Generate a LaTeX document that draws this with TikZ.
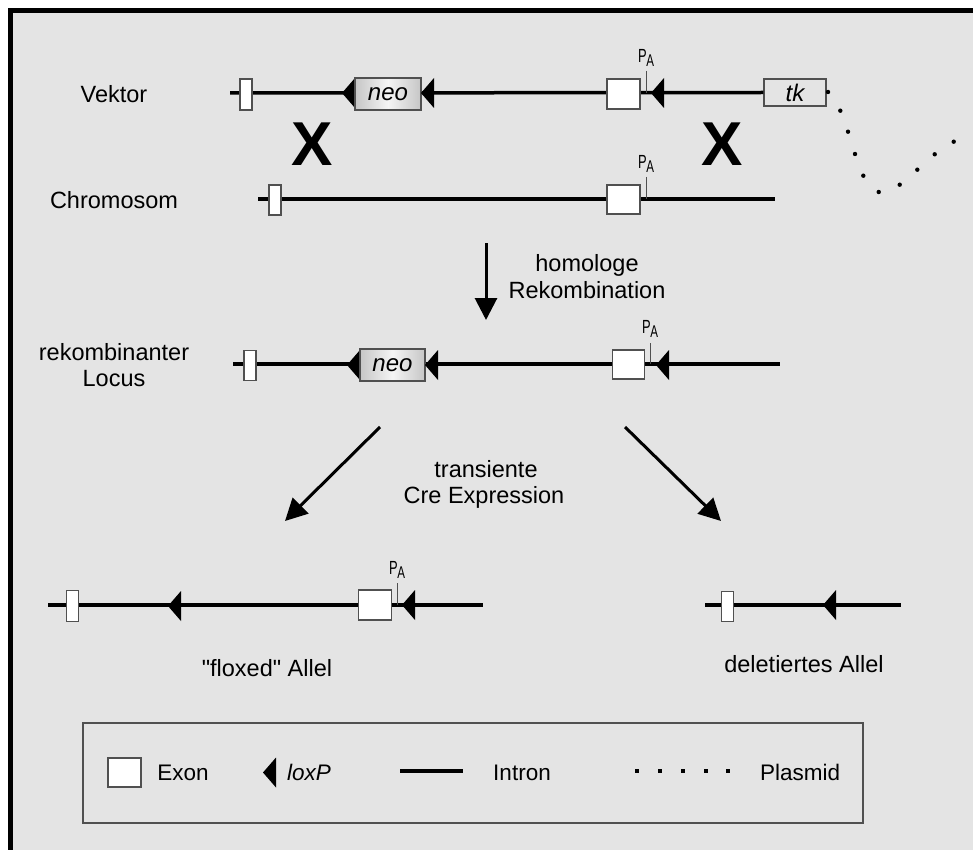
\documentclass[tikz,border=0pt]{standalone}
\usepackage{fontspec}
\setmainfont{Liberation Sans}
\newfontfamily\rawsans{Liberation Sans}
\usetikzlibrary{arrows.meta,shapes.geometric}
\definecolor{bg}{RGB}{228,228,228}
\definecolor{edge}{RGB}{80,80,80}
\newcommand\polyA{\scalebox{0.68}[1]{\fontsize{19}{19}\selectfont P\kern-0.5pt\raisebox{-3.5pt}{\fontsize{17}{17}\selectfont A}}}
\tikzset{loxp/.pic={\fill (0,0) -- (13,-15) -- (13,15) -- cycle;}}
\begin{document}
\begin{tikzpicture}[x=1pt,y=-1pt,
  intron/.style={line width=3.5pt, line cap=butt},
  exon/.style={draw=edge, line width=1.2pt, fill=white, inner sep=0pt},
  smallexon/.style={exon, minimum width=12pt, minimum height=31pt},
  bigexon/.style={exon, minimum width=33pt, minimum height=30pt},
  neobox/.style={draw=edge, line width=1.2pt, inner sep=0pt, minimum width=66pt, minimum height=32pt,
     left color=gray!45, right color=gray!45, middle color=gray!8, font=\fontsize{24}{24}\selectfont\itshape},
  tkbox/.style={draw=edge, line width=1.2pt, inner sep=0pt, fill=bg, minimum width=62pt, minimum height=27pt,
     font=\fontsize{24}{24}\selectfont\itshape},
  lbl/.style={inner sep=0pt, anchor=base, font=\fontsize{23.5}{28}\selectfont},
  leg/.style={inner sep=0pt, anchor=base, font=\fontsize{22.5}{26}\selectfont},
  palbl/.style={inner sep=0pt},
  patick/.style={draw=edge, line width=1pt},
  bigx/.style={inner sep=0pt, font=\fontsize{62}{62}\selectfont\bfseries},
  flow/.style={line width=3pt, -{Triangle[width=22pt,length=22pt]}},
  plasdot/.style={fill=black}
]
\useasboundingbox (0,0) rectangle (973,850);
\fill[white] (0,0) rectangle (973,850);
\begin{scope}
  \clip (0,0) rectangle (973,850);
  \draw[line width=5pt, fill=bg] (10.5,10.5) rectangle (1000,900);
\end{scope}

% ---------- row 1: Vektor ----------
\node[lbl] (lvek) at (114,103) {Vektor};
\coordinate (v0) at (230,93);
\node[tkbox] (tk) at (795,92.5) {tk};
\draw[intron] (v0) -- (tk.west);
\node[smallexon] (v1) at (246,94.5) {};
\pic at (342,93) {loxp};
\node[neobox] (neo1) at (388,94) {neo};
\pic at (421,93) {loxp};
\node[bigexon] (v2) at (623.5,94) {};
\draw[patick] (646,71) -- (646,93);
\node[palbl] (pa1) at (646,58) {\polyA};
\pic at (651,93) {loxp};
\foreach \px/\py in {828/92,840.3/110.7,848/131.7,855/154,863.3/175.7,878.7/192,899.7/184.7,917.3/169.7,934.7/154.3,953.7/141.7}
  \fill[plasdot] (\px,\py) circle (2.2);

\node[bigx] (x1) at (312,144) {X};
\node[bigx] (x2) at (722,144) {X};

% ---------- row 2: Chromosom ----------
\node[lbl] (lchr) at (114,208) {Chromosom};
\coordinate (c0) at (258,199);
\coordinate (c1) at (775,199);
\draw[intron] (c0) -- (c1);
\node[smallexon, minimum height=30pt] (ce1) at (275,200) {};
\node[bigexon, minimum height=29pt] (ce2) at (623.5,199.5) {};
\draw[patick] (646,177) -- (646,199);
\node[palbl] (pa2) at (646,164) {\polyA};

% ---------- arrow: homologe Rekombination ----------
\coordinate (hrA) at (486,243);
\coordinate (hrB) at (486,320);
\draw[flow] (hrA) -- (hrB);
\node[lbl] (hr1) at (587,271) {homologe};
\node[lbl] (hr2) at (587,298) {Rekombination};

% ---------- row 3: rekombinanter Locus ----------
\node[lbl] (lrek1) at (114,360) {rekombinanter};
\node[lbl] (lrek2) at (114,386) {Locus};
\coordinate (r0) at (233,364);
\coordinate (r1) at (780,364);
\draw[intron] (r0) -- (r1);
\node[smallexon, minimum height=30pt] (re1) at (250,365.5) {};
\pic at (347,365) {loxp};
\node[neobox, minimum width=65pt] (neo2) at (392.5,365) {neo};
\pic at (425,365) {loxp};
\node[bigexon, minimum width=32pt, minimum height=29pt] (re2) at (628.5,364.5) {};
\draw[patick] (650,343) -- (650,364);
\node[palbl] (pa3) at (650,329) {\polyA};
\pic at (656,365) {loxp};

% ---------- arrows: transiente Cre Expression ----------
\coordinate (crA) at (380,427);
\coordinate (crL) at (285,521);
\coordinate (crB) at (625,427);
\coordinate (crR) at (721,521);
\draw[flow] (crA) -- (crL);
\draw[flow] (crB) -- (crR);
\node[lbl] (cr1) at (486,477) {transiente};
\node[lbl] (cr2) at (484,503) {Cre Expression};

% ---------- row 4: floxed ----------
\coordinate (f0) at (48,605);
\coordinate (f1) at (483,605);
\draw[intron] (f0) -- (f1);
\node[smallexon] (fe1) at (72.7,606) {};
\pic at (168,606) {loxp};
\node[bigexon] (fe2) at (375,605) {};
\draw[patick] (397,583) -- (397,605);
\node[palbl] (pa4) at (397,570) {\polyA};
\pic at (402,605) {loxp};
\node[lbl] (lflox) at (267,676) {\rawsans "floxed" Allel};

% ---------- row 4: deleted ----------
\coordinate (d0) at (705,605);
\coordinate (d1) at (901,605);
\draw[intron] (d0) -- (d1);
\node[smallexon, minimum height=30pt] (de1) at (727.5,606.5) {};
\pic at (823,605) {loxp};
\node[lbl] (ldel) at (804,672) {deletiertes Allel};

% ---------- legend ----------
\node[draw=edge, line width=1.5pt, inner sep=0pt, minimum width=780pt, minimum height=100pt] (legend) at (473,773) {};
\node[bigexon, minimum height=29pt] (lgex) at (124.5,772.5) {};
\node[leg] (lgexon) at (183,780) {Exon};
\pic at (263,772.5) {loxp};
\node[leg, anchor=base west] (lgloxp) at (287,780) {\itshape loxP};
\coordinate (lgi0) at (400,771);
\coordinate (lgi1) at (463,771);
\draw[line width=4.5pt] (lgi0) -- (lgi1);
\node[leg] (lgintron) at (522,780) {Intron};
\foreach \px in {637,660,683,706,728}
  \fill[plasdot] (\px-1.7,769.2) rectangle (\px+1.7,772.6);
\node[leg] (lgplas) at (800,780) {Plasmid};
\end{tikzpicture}
\end{document}
